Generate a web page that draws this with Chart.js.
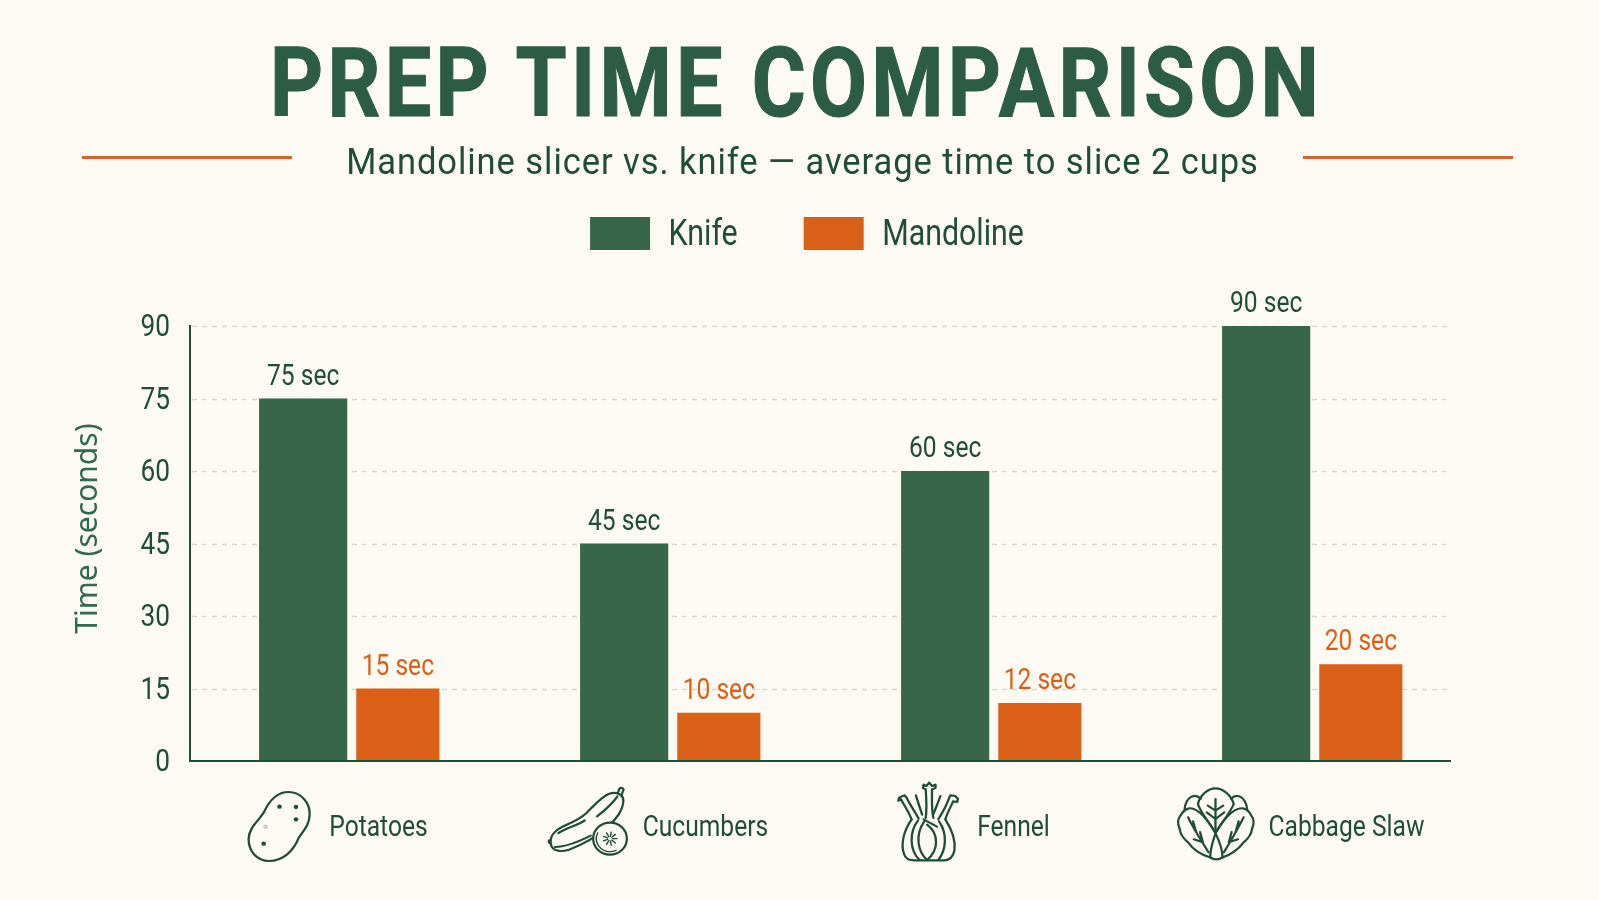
<!DOCTYPE html>
<html>
<head>
<meta charset="utf-8">
<title>Prep Time Comparison</title>
<script src="https://cdn.jsdelivr.net/npm/chart.js@4"></script>
<style>
  html, body { margin: 0; padding: 0; background: #fdfaf3; }
  #page { position: relative; width: 1599px; height: 900px; overflow: hidden; background: #fdfaf3; }
  #chart { position: absolute; left: 0; top: 0; width: 1599px; height: 900px; }
  .head { position: absolute; left: 0; width: 1599px; text-align: center; white-space: nowrap; }
  #title { top: 27px; left: -3px; font: bold 97px/112px Roboto, sans-serif; letter-spacing: 5px; color: #2d5c44; -webkit-text-stroke: 1.2px #2d5c44; transform: scaleX(0.852); }
  #subtitle { top: 140px; left: 3px; font: 37px/44px Roboto, sans-serif; letter-spacing: 1px; color: #1f4d38; transform: scaleX(0.933); }
  .rule { position: absolute; top: 156px; height: 3px; background: #d9622b; }
</style>
</head>
<body>
<div id="page">
  <canvas id="chart" width="1599" height="900"></canvas>
  <div class="head" id="title">PREP TIME COMPARISON</div>
  <div class="head" id="subtitle">Mandoline slicer vs. knife — average time to slice 2 cups</div>
  <div class="rule" style="left:82px;width:210px"></div>
  <div class="rule" style="left:1303px;width:210px"></div>
</div>
<script>
// Chart data
const categories = ['Potatoes', 'Cucumbers', 'Fennel', 'Cabbage Slaw'];
const knifeSeconds = [75, 45, 60, 90];
const mandolineSeconds = [15, 10, 12, 20];
const yTickValues = [0, 15, 30, 45, 60, 75, 90];

// Palette
const GREEN = '#38664a';
const INK = '#1f4d38';
const ORANGE = '#d96016';
const LABEL_FONT = 'Roboto, sans-serif';
const AXIS_TITLE_FONT = '"Noto Sans", sans-serif';
const NARROW_FACTOR = 0.82;

// Horizontal placement of each category's caption and icon, relative to its slot centre
const labelShift = [28, 34, 21, 33];
const iconCentre = [[-71, 65], [-85, 62], [-64, 61], [-98, 63]];
const GRID_END = 1451;
const AXIS_TITLE_LIFT = 15;

// Line-art icons, authored in a local grid and centred on (0, 0)
const icons = [
  { // potato
    lines: ['M26 -102 C60 -102 87 -70 86 -35 C85 0 67 15 55 35 C40 75 10 105 -30 105 C-65 105 -88 75 -88 40 C-88 5 -60 -15 -45 -40 C-30 -75 -10 -102 26 -102 Z'],
    dots: [[0, -58, 1], [47, -57, 1], [47, -20, 1], [-40, 2, 0.25], [-45, 53, 1]]
  },
  { // cucumber with a cut slice in front
    lines: [
      'M65 -88 C85 -95 105 -85 105 -68 C105 -40 85 -10 60 10 C30 40 -10 65 -50 80 C-75 88 -98 85 -102 62 C-105 40 -90 22 -70 12 C-45 0 -20 -10 0 -30 C20 -50 40 -78 65 -88 Z',
      'M90 -92 L94 -103 A6 6 0 0 1 104 -96 L100 -84',
      'M-102 62 A6 6 0 0 1 -106 52',
      'M-90 72 C-55 72 -20 55 12 38',
      'M-80 30 C-55 12 -25 8 -5 -8',
      'M30 -20 C55 -40 75 -60 88 -80'
    ],
    slice: [67, 47, 46],
    spokes: true
  },
  { // fennel bulb with cut stalks
    lines: [
      'M-48 -8 C-70 25 -80 65 -70 95 C-66 110 -55 115 -40 115 L45 115 C62 115 70 105 74 85 C78 55 65 20 48 -8',
      'M-48 -8 C-58 -35 -70 -50 -78 -68 L-86 -64 L-84 -72 L-78 -76 L-68 -80 L-62 -72 C-52 -50 -38 -30 -28 -10',
      'M48 -8 C56 -35 66 -50 70 -62 L82 -60 L84 -70 L76 -78 L62 -80 L58 -70 C50 -45 38 -25 28 -8',
      'M-8 -12 C-4 -40 -6 -70 -8 -98 L-16 -102 L-14 -112 L-6 -108 L2 -118 L10 -108 L20 -112 L20 -102 L10 -98 C10 -70 8 -40 14 -12',
      'M-36 -80 C-30 -60 -24 -40 -18 -22',
      'M34 -78 C26 -55 20 -40 14 -24',
      'M-30 -4 C-55 30 -55 85 -25 114',
      'M-12 -2 C-40 40 -30 90 -4 114 C30 85 30 35 -4 8',
      'M30 -2 C55 35 50 85 28 114',
      'M-14 -8 L24 14'
    ]
  },
  { // cabbage head with three veined leaves
    lines: [
      'M0 -107 C-22 -107 -45 -85 -50 -60 C-45 -40 -20 -5 0 25 C20 -5 45 -40 52 -60 C45 -85 22 -107 0 -107 Z',
      'M-2 25 C-20 -10 -50 -50 -75 -47 C-85 -45 -95 -35 -100 -25 C-108 -15 -108 0 -102 15 C-100 35 -90 45 -78 55 C-65 75 -40 95 -15 100',
      'M2 25 C20 -10 50 -50 78 -47 C88 -45 98 -35 102 -25 C110 -15 110 0 104 15 C102 35 92 45 80 55 C66 75 42 95 20 100',
      'M-15 100 C-5 108 10 108 20 100',
      'M-15 100 C-15 70 -5 45 0 28 C8 45 20 70 20 100',
      'M-42 -76 C-60 -95 -85 -80 -88 -44',
      'M44 -76 C62 -95 87 -80 90 -44',
      'M0 20 L0 -75 M0 -40 L-22 -55 M0 -40 L22 -55 M0 -15 L-25 -35 M0 -15 L25 -35',
      'M-20 85 C-40 50 -65 10 -78 -20 M-55 25 L-64 -8 M-36 55 L-62 46 M-36 55 L-44 24',
      'M24 85 C44 50 66 10 80 -20 M57 25 L66 -8 M38 55 L64 46 M38 55 L46 24'
    ]
  }
];

// Dashed guides and the baseline stop short of the full category band
const guideLines = {
  id: 'guideLines',
  beforeDatasetsDraw(chart) {
    const { ctx, chartArea, scales: { y } } = chart;
    ctx.save();
    ctx.strokeStyle = '#d9d7ca';
    ctx.lineWidth = 1.5;
    ctx.setLineDash([5, 5]);
    yTickValues.filter(v => v > 0).forEach(v => {
      const py = Math.round(y.getPixelForValue(v)) + 0.5;
      ctx.beginPath();
      ctx.moveTo(chartArea.left + 2, py);
      ctx.lineTo(GRID_END, py);
      ctx.stroke();
    });
    ctx.restore();
  },
  afterDatasetsDraw(chart) {
    const { ctx, chartArea, scales: { y } } = chart;
    ctx.save();
    ctx.strokeStyle = INK;
    ctx.lineWidth = 2;
    const py = y.getPixelForValue(0);
    ctx.beginPath();
    ctx.moveTo(chartArea.left - 1, py);
    ctx.lineTo(GRID_END, py);
    ctx.stroke();
    ctx.restore();
  }
};

// "N sec" captions above each bar, in the colour of its series
const valueLabels = {
  id: 'valueLabels',
  afterDatasetsDraw(chart) {
    const { ctx } = chart;
    ctx.save();
    ctx.font = '30px ' + LABEL_FONT;
    ctx.textAlign = 'center';
    ctx.textBaseline = 'alphabetic';
    chart.data.datasets.forEach((ds, d) => {
      ctx.fillStyle = d === 0 ? INK : ORANGE;
      chart.getDatasetMeta(d).data.forEach((bar, i) => {
        ctx.fillText(ds.data[i] + ' sec', bar.x, bar.y - 14);
      });
    });
    ctx.restore();
  }
};

// Places the legend over the page rather than the plot, lifts the axis title,
// and nudges category captions
const placement = {
  id: 'placement',
  afterLayout(chart) {
    const lg = chart.legend;
    const h = lg.bottom - lg.top;
    const labels = lg.options.labels;
    lg.left = 0; lg.right = 1614;
    lg.top = 217 - labels.padding - (labels.font.size - labels.boxHeight) / 2;
    lg.bottom = lg.top + h;
    const ys = chart.scales.y;
    if (!ys.liftedTitle) {
      const drawTitle = ys.drawTitle;
      ys.drawTitle = function () {
        this.ctx.save();
        this.ctx.translate(0, -AXIS_TITLE_LIFT);
        drawTitle.call(this);
        this.ctx.restore();
      };
      ys.liftedTitle = true;
    }
  },
  beforeDraw(chart) {
    const xs = chart.scales.x;
    xs.getLabelItems(chart.chartArea).forEach((item, i) => {
      item.options.translation[0] = xs.getPixelForTick(i) + labelShift[i];
    });
  }
};

// Icons beneath the baseline, next to their category captions
const categoryIcons = {
  id: 'categoryIcons',
  afterDraw(chart) {
    const { ctx, scales: { x, y } } = chart;
    const base = y.getPixelForValue(0);
    icons.forEach((icon, i) => {
      ctx.save();
      ctx.translate(x.getPixelForTick(i) + iconCentre[i][0], base + iconCentre[i][1]);
      ctx.scale(1 / 2.85, 1 / 3);
      ctx.strokeStyle = INK;
      ctx.fillStyle = INK;
      ctx.lineWidth = 6.5;
      ctx.lineJoin = 'round';
      ctx.lineCap = 'round';
      icon.lines.forEach(d => ctx.stroke(new Path2D(d)));
      (icon.dots || []).forEach(([dx, dy, a]) => {
        ctx.globalAlpha = a;
        ctx.beginPath();
        ctx.arc(dx, dy, 6.5, 0, Math.PI * 2);
        ctx.fill();
        ctx.globalAlpha = 1;
      });
      if (icon.slice) {
        const [cx, cy, r] = icon.slice;
        ctx.fillStyle = '#fdfaf3';
        ctx.beginPath();
        ctx.arc(cx, cy, r + 2, 0, Math.PI * 2);
        ctx.fill();
        ctx.stroke();
        ctx.lineWidth = 4;
        ctx.beginPath();
        ctx.arc(cx, cy, r - 7, Math.PI * 0.35, Math.PI * 1.15);
        ctx.stroke();
        ctx.beginPath();
        for (let k = 0; k < 9; k++) {
          const a = k * Math.PI * 2 / 9;
          ctx.moveTo(cx + Math.cos(a) * 7, cy + Math.sin(a) * 7);
          ctx.lineTo(cx + Math.cos(a) * 20, cy + Math.sin(a) * 20);
        }
        ctx.stroke();
      }
      ctx.restore();
    });
  }
};

// The chart's labels use a condensed look: no condensed face is available,
// so canvas text in the label font is squeezed horizontally around its anchor.
// Text set on a middle baseline sits slightly high in this face, so it drops a little.
const canvasEl = document.getElementById('chart');
const drawCtx = canvasEl.getContext('2d');
const baseFillText = drawCtx.fillText.bind(drawCtx);
const baseMeasureText = drawCtx.measureText.bind(drawCtx);
const isNarrow = () => drawCtx.font.includes('Roboto');
drawCtx.fillText = function (text, x, y, maxWidth) {
  if (!isNarrow()) return baseFillText(text, x, y, maxWidth);
  drawCtx.save();
  drawCtx.translate(x, y + (drawCtx.textBaseline === 'middle' ? 2 : 0));
  drawCtx.scale(NARROW_FACTOR, 1);
  baseFillText(text, 0, 0);
  drawCtx.restore();
};
drawCtx.measureText = function (text) {
  const m = baseMeasureText(text);
  return isNarrow() ? { width: m.width * NARROW_FACTOR } : m;
};

new Chart(canvasEl, {
  type: 'bar',
  data: {
    labels: categories,
    datasets: [
      { label: 'Knife', data: knifeSeconds, backgroundColor: GREEN, categoryPercentage: 0.59, barPercentage: 0.931 },
      { label: 'Mandoline', data: mandolineSeconds, backgroundColor: ORANGE, categoryPercentage: 0.59, barPercentage: 0.878 }
    ]
  },
  plugins: [guideLines, valueLabels, placement, categoryIcons],
  options: {
    responsive: false,
    animation: false,
    layout: { padding: { left: 50, right: 125, top: 213, bottom: 0 } },
    plugins: {
      tooltip: { enabled: false },
      legend: {
        position: 'top',
        labels: {
          boxWidth: 60,
          boxHeight: 33,
          padding: 66,
          color: INK,
          font: { family: LABEL_FONT, size: 37 }
        }
      }
    },
    scales: {
      x: {
        grid: { display: false, drawTicks: false },
        border: { display: false },
        ticks: {
          autoSkip: false,
          maxRotation: 0,
          padding: 47,
          color: INK,
          font: { family: LABEL_FONT, size: 30 }
        },
        afterFit(scale) { scale.height = 139; }
      },
      y: {
        min: 0,
        max: 90,
        grid: { display: false, drawTicks: false },
        border: { display: true, color: INK, width: 2 },
        afterBuildTicks(scale) { scale.ticks = yTickValues.map(value => ({ value })); },
        ticks: {
          padding: 20,
          color: INK,
          font: { family: LABEL_FONT, size: 32 }
        },
        title: {
          display: true,
          text: 'Time (seconds)',
          color: '#2f6a4f',
          font: { family: AXIS_TITLE_FONT, size: 30 },
          padding: { top: 20, bottom: 0 }
        },
        afterFit(scale) { scale.width = 140; }
      }
    }
  }
});
</script>
</body>
</html>
